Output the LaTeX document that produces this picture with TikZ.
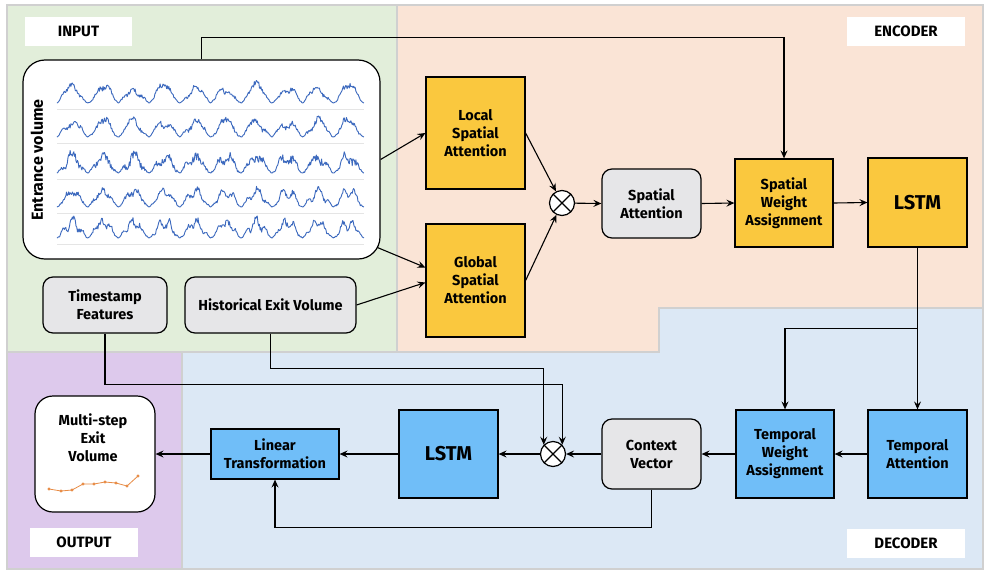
\documentclass[tikz,border=0pt]{standalone}
\usepackage{fontspec}
\setmainfont{Fira Sans}
\usepackage{tikz}
\usetikzlibrary{arrows.meta}
\usetikzlibrary{calc}

\definecolor{boxyellow}{RGB}{250,200,62}
\definecolor{boxblue}{RGB}{112,190,248}
\definecolor{boxgray}{RGB}{230,230,232}
\definecolor{bggreen}{RGB}{226,238,218}
\definecolor{bgpeach}{RGB}{250,228,214}
\definecolor{bgblue}{RGB}{220,232,245}
\definecolor{bgpurple}{RGB}{221,201,236}
\definecolor{bgline}{RGB}{208,208,208}
\definecolor{wavecol}{RGB}{60,105,190}
\definecolor{sparkcol}{RGB}{232,140,70}

\newcommand{\boxfont}{\fontsize{14.5}{18}\selectfont\bfseries}

\begin{document}
\begin{tikzpicture}[x=1pt, y=-1pt,
region/.style={draw=bgline, line width=2.5pt},
yellownode/.style={rectangle, draw=black, fill=boxyellow, line width=1.2pt, align=center, font=\boxfont, inner sep=2pt},
bluenode/.style={rectangle, draw=black, fill=boxblue, line width=1.2pt, align=center, font=\boxfont, inner sep=2pt},
graynode/.style={rectangle, rounded corners=10pt, draw=black, fill=boxgray, line width=1.2pt, align=center, font=\boxfont, inner sep=2pt},
whitenode/.style={rectangle, rounded corners=18pt, draw=black, fill=white, line width=1.2pt},
tagnode/.style={rectangle, fill=white, font=\fontsize{15}{17}\selectfont\bfseries, minimum height=29pt},
otimes/.style={circle, draw=black, fill=white, line width=1.2pt, minimum size=25pt, inner sep=0pt,
  path picture={\draw[line width=1.2pt] (path picture bounding box.north west) -- (path picture bounding box.south east)
  (path picture bounding box.north east) -- (path picture bounding box.south west);}},
flow/.style={-{Stealth[length=8pt, width=7pt, inset=3pt]}, line width=1.1pt},
wave/.style={draw=wavecol, line width=0.9pt, line join=round},
sepline/.style={draw=black!10, line width=0.5pt},
spark/.style={draw=sparkcol, line width=0.8pt, mark=*, mark size=1.1pt, mark options={fill=sparkcol, draw=sparkcol}},
]
\useasboundingbox[fill=white] (0,0) rectangle (987,573);

%Regions
\fill[bggreen, region] (7,5) rectangle (397,352);
\fill[bgpeach, region] (397,5) -- (983,5) -- (983,308) -- (659,308) -- (659,352) -- (397,352) -- cycle;
\fill[bgblue, region] (182,352) -- (659,352) -- (659,308) -- (983,308) -- (983,569) -- (182,569) -- cycle;
\fill[bgpurple, region] (7,352) rectangle (182,569);

%Tags
\node[tagnode, minimum width=107pt] (intag)  at (78.5,31.5) {INPUT};
\node[tagnode, minimum width=118pt] (enctag) at (906,31.5)  {ENCODER};
\node[tagnode, minimum width=108pt] (outtag) at (84,542.5)  {OUTPUT};
\node[tagnode, minimum width=118pt] (dectag) at (906,543)   {DECODER};

%Nodes
\node[whitenode, rounded corners=22pt, minimum width=357pt, minimum height=199pt] (ent) at (201.5,159.5) {};
\node[font=\fontsize{16}{18}\selectfont\bfseries, rotate=90] (entlbl) at (37,160) {Entrance volume};
\pgfmathsetseed{11}
\foreach \yb/\r/\nz in {103/1/2.5, 137/2/2.8, 173/3/4.5, 207/4/2.8, 238/5/3}{
  \draw[sepline] (57,\yb+6) -- (364,\yb+6);
  \draw[wave] plot[domain=0:1, samples=420] ({57+307*\x},
    {\yb-pow(sin(180*frac(10*\x)),1.4)*(15+4*sin(2300*\x*\r+40*\r)+2*sin(9000*\x))
     -sin(180*frac(10*\x))*\nz*rand});
}

\node[yellownode, minimum width=99pt, minimum height=112pt] (local)  at (475.5,133)   {Local\\Spatial\\Attention};
\node[yellownode, minimum width=99pt, minimum height=113pt] (global) at (475.5,280.5) {Global\\Spatial\\Attention};
\node[otimes] (ote) at (562,203) {};
\node[graynode, minimum width=99pt, minimum height=69pt] (sa) at (651.5,203.5) {Spatial\\Attention};
\node[yellownode, minimum width=98pt, minimum height=88pt] (swa) at (784,203) {Spatial\\Weight\\Assignment};
\node[yellownode, minimum width=99pt, minimum height=89pt, font=\fontsize{20}{22}\selectfont\bfseries] (lstme) at (917.5,202.5) {LSTM};

\node[graynode, minimum width=124pt, minimum height=56pt] (ts)   at (105,305)   {Timestamp\\Features};
\node[graynode, minimum width=171pt, minimum height=56pt] (hist) at (270.5,305) {Historical Exit Volume};

\node[bluenode, minimum width=99pt, minimum height=88pt] (ta)  at (917.5,454) {Temporal\\Attention};
\node[bluenode, minimum width=98pt, minimum height=88pt] (twa) at (785,454)   {Temporal\\Weight\\Assignment};
\node[graynode, minimum width=99pt, minimum height=70pt] (ctx) at (651.5,454) {Context\\Vector};
\node[otimes] (otd) at (553,454) {};
\node[bluenode, minimum width=99pt, minimum height=88pt, font=\fontsize{20}{22}\selectfont\bfseries] (lstmd) at (448.5,454) {LSTM};
\node[bluenode, minimum width=128pt, minimum height=50pt] (lin) at (275,454) {Linear\\Transformation};

\node[whitenode, minimum width=120pt, minimum height=116pt] (out) at (95,454) {};
\node[align=center, font=\boxfont] (outlbl) at (93,438) {Multi-step\\Exit\\Volume};
\draw[spark] plot coordinates {(49,489) (61,491) (72,490) (83,484) (94,484) (105,482) (116,483) (127,486) (138,476)};

%Lines
\draw[flow] (ent.north) -- ++(0,-22) -| (swa.north);
\draw[flow] (ent.east) -- (local.west);
\draw[flow] ($(ent.south east)+(-3,-12)$) -- ($(global.west)+(0,-13)$);
\draw[flow] (hist.east) -- ($(global.west)+(0,2)$);
\draw[flow] (local.east) -- (ote);
\draw[flow] (global.east) -- (ote);
\draw[flow] (ote) -- (sa.west);
\draw[flow] (sa.east) -- (swa.west);
\draw[flow] (swa.east) -- (lstme.west);
\draw[flow] (lstme.south) -- (ta.north);
\draw[flow] (lstme.south) ++(0,81) -| (twa.north);
\draw[flow] (ta.west) -- (twa.east);
\draw[flow] (twa.west) -- (ctx.east);
\draw[flow] (ctx.west) -- (otd.east);
\draw[flow] (otd.west) -- (lstmd.east);
\draw[flow] (lstmd.west) -- (lin.east);
\draw[flow] (lin.west) -- (out.east);
\draw[flow] (ctx.south) -- ++(0,38) -| (lin.south);
\draw[flow] (hist.south) -- ++(0,35) -| (otd.135);
\draw[flow] (ts.south) -- ++(0,51) -| (otd.45);
\end{tikzpicture}
\end{document}
